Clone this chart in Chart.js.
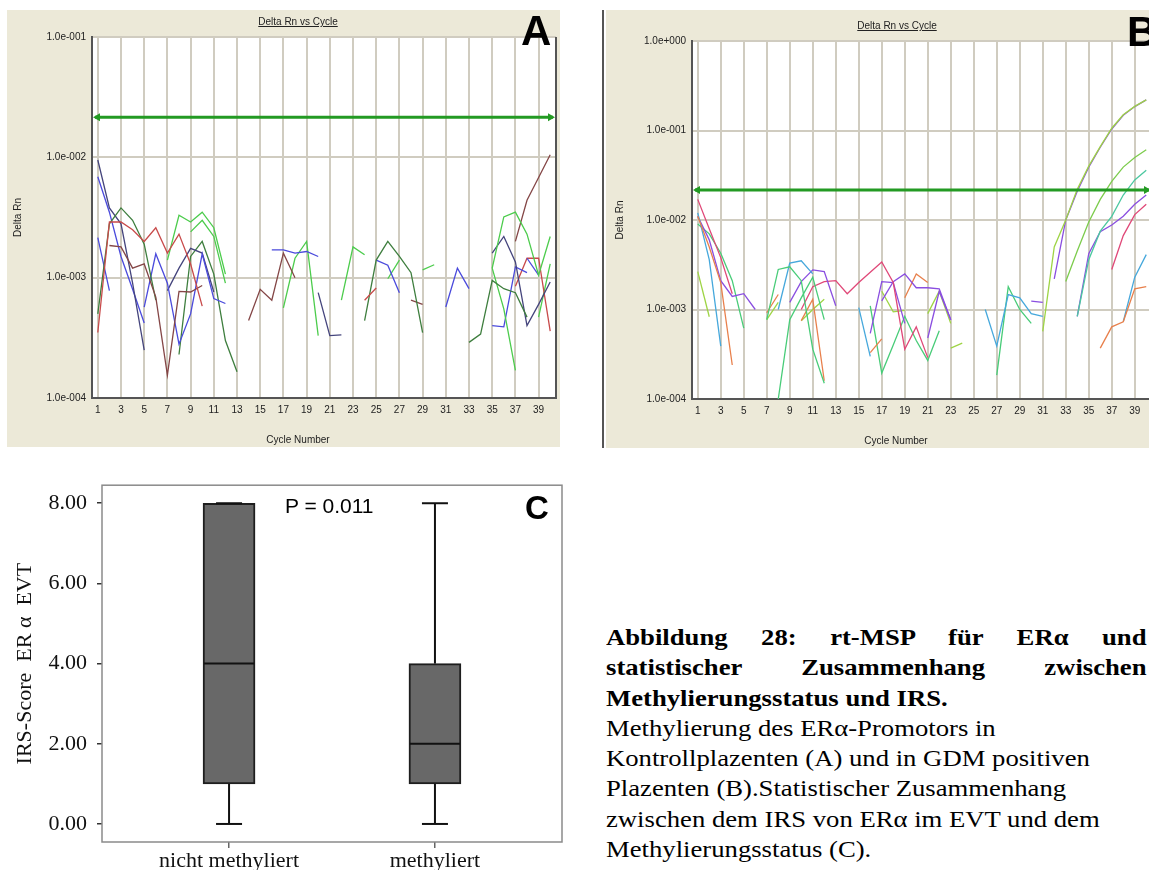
<!DOCTYPE html>
<html>
<head>
<meta charset="utf-8">
<script src="https://cdn.jsdelivr.net/npm/chart.js@4.4.1/dist/chart.umd.min.js"></script>
<style>
  html, body { margin: 0; padding: 0; background: #fff; }
  #page { position: relative; width: 1149px; height: 870px; overflow: hidden; font-family: "Liberation Sans", Arial, sans-serif; }
  .panel { position: absolute; background: #ece9d8; }
  .lbl { position: absolute; font-size: 10px; line-height: 12px; color: #222; white-space: nowrap; transform: translateX(-50%); }
  .letter { position: absolute; font: bold 42px/42px "Liberation Sans", Arial, sans-serif; color: #000; }
  #caption { position: absolute; left: 606px; top: 623px; width: 466px; transform: scaleX(1.16); transform-origin: 0 0;
             font-family: "Liberation Serif", "Times New Roman", serif; font-size: 23px; line-height: 30.3px; color: #000; }
  #caption div { white-space: nowrap; }
  #caption .b { font-weight: bold; }
  #caption .j { text-align: justify; text-align-last: justify; white-space: normal; }
</style>
</head>
<body>
<div id="page">
  <div class="panel" style="left:7px; top:10px; width:553px; height:437px;"><canvas id="chartA"></canvas></div>
  <div style="position:absolute; left:602px; top:10px; width:2px; height:438px; background:#555;"></div>
  <div class="panel" style="left:606px; top:10px; width:550px; height:438px;"><canvas id="chartB"></canvas></div>
  <div style="position:absolute; left:0px; top:462px; width:580px; height:408px;"><canvas id="chartC"></canvas></div>

  <div class="lbl" style="left:298px; top:16px; text-decoration:underline;">Delta Rn vs Cycle</div>
  <div class="lbl" style="left:298px; top:434px;">Cycle Number</div>
  <div class="lbl" style="left:897px; top:20px; text-decoration:underline;">Delta Rn vs Cycle</div>
  <div class="lbl" style="left:896px; top:435px;">Cycle Number</div>
  <div class="letter" style="left:521px; top:10px;">A</div>
  <div class="letter" style="left:1127px; top:11px;">B</div>
  <div style="position:absolute; left:285px; top:495px; font:21px/21px 'Liberation Sans', Arial, sans-serif; color:#000;">P = 0.011</div>
  <div style="position:absolute; left:525px; top:491px; font:bold 33px/33px 'Liberation Sans', Arial, sans-serif; color:#000;">C</div>

  <div id="caption">
    <div class="b j">Abbildung 28: rt-MSP für ERα und</div>
    <div class="b j">statistischer Zusammenhang zwischen</div>
    <div class="b">Methylierungsstatus und IRS.</div>
    <div>Methylierung des ERα-Promotors in</div>
    <div>Kontrollplazenten (A) und in GDM positiven</div>
    <div>Plazenten (B).Statistischer Zusammenhang</div>
    <div>zwischen dem IRS von ERα im EVT und dem</div>
    <div>Methylierungsstatus (C).</div>
  </div>
</div>

<script>
// ---- data -------------------------------------------------------------
const cycleTicks = [1, 3, 5, 7, 9, 11, 13, 15, 17, 19, 21, 23, 25, 27, 29, 31, 33, 35, 37, 39];
const aDecades = [1e-4, 1e-3, 1e-2, 1e-1];
const bDecades = [1e-4, 1e-3, 1e-2, 1e-1, 1];
const aThreshold = 2.15e-2;
const bThreshold = 2.16e-2;

// panel A, each trace segment as [cycle, delta Rn]
const aRed1    = [[1,3.5e-4],[2,2.9e-3],[3,2.9e-3],[4,2.5e-3],[5,2.0e-3],[6,2.6e-3],[7,1.6e-3],[8,2.3e-3],[9,1.3e-3],[10,5.8e-4]];
const aBrown1  = [[2,1.85e-3],[3,1.8e-3],[4,1.2e-3],[5,1.3e-3],[6,6.9e-4],[7,1.55e-4],[8,7.7e-4],[9,7.6e-4],[10,8.6e-4]];
const aDkGrn1  = [[1,5.0e-4],[2,2.8e-3],[3,3.8e-3],[4,3.0e-3],[5,1.9e-3],[6,6.5e-4]];
const aNavy1   = [[1,9.5e-3],[2,3.8e-3],[3,2.8e-3],[4,9.0e-4],[5,2.5e-4]];
const aBlue1   = [[1,6.9e-3],[2,3.5e-3],[3,1.5e-3],[4,8.0e-4],[5,4.2e-4]];
const aBlue2   = [[1,2.15e-3],[2,7.8e-4]];
const aBlue3   = [[5,5.7e-4],[6,1.58e-3],[7,9.0e-4],[8,2.8e-4],[9,5.0e-4],[10,1.58e-3],[11,6.7e-4],[12,6.1e-4]];
const aNavy2   = [[7,7.8e-4],[8,1.2e-3],[9,1.75e-3],[10,1.6e-3],[11,7.6e-4]];
const aGreen1  = [[7,1.4e-3],[8,3.3e-3],[9,2.9e-3],[10,3.5e-3],[11,2.6e-3],[12,1.07e-3]];
const aGreen2  = [[9,2.4e-3],[10,3.0e-3],[11,2.2e-3],[12,9.0e-4]];
const aDkGrn2  = [[8,2.3e-4],[9,1.5e-3],[10,2.0e-3],[11,1.07e-3],[12,3.0e-4],[13,1.65e-4]];
const aBrown2  = [[14,4.4e-4],[15,8.0e-4],[16,6.5e-4],[17,1.6e-3],[18,1.0e-3]];
const aBlue4   = [[16,1.7e-3],[17,1.7e-3],[18,1.6e-3],[19,1.65e-3],[20,1.5e-3]];
const aGreen3  = [[17,5.6e-4],[18,1.45e-3],[19,2.0e-3],[20,3.3e-4]];
const aNavy3   = [[20,7.5e-4],[21,3.3e-4],[22,3.35e-4]];
const aGreen4  = [[22,6.5e-4],[23,1.8e-3],[24,1.55e-3]];
const aRed2    = [[24,6.5e-4],[25,8.2e-4]];
const aDkGrn3  = [[24,4.4e-4],[25,1.4e-3],[26,2.0e-3],[27,1.5e-3],[28,1.1e-3],[29,3.5e-4]];
const aBlue5   = [[25,1.4e-3],[26,1.27e-3],[27,7.5e-4]];
const aGreen5  = [[26,9.8e-4],[27,1.4e-3]];
const aBrown3  = [[28,6.5e-4],[29,6.0e-4]];
const aGreen6  = [[29,1.16e-3],[30,1.28e-3]];
const aBlue6   = [[31,5.7e-4],[32,1.2e-3],[33,8.1e-4]];
const aDkGrn4  = [[33,2.9e-4],[34,3.4e-4],[35,9.5e-4],[36,8.1e-4],[37,7.5e-4],[38,4.7e-4]];
const aGreen7  = [[35,1.2e-3],[36,3.2e-3],[37,3.5e-3],[38,2.3e-3],[39,1.05e-3],[40,2.2e-3]];
const aGreen8  = [[35,1.2e-3],[36,5.5e-4],[37,1.7e-4]];
const aNavy4   = [[35,1.6e-3],[36,2.2e-3],[37,1.35e-3],[38,4.0e-4],[39,6.0e-4],[40,9.2e-4]];
const aBlue7   = [[35,4.0e-4],[36,3.9e-4],[37,1.23e-3],[38,1.1e-3]];
const aBlue8   = [[38,1.45e-3],[39,1.05e-3]];
const aBrown4  = [[37,2.0e-3],[38,4.4e-3],[39,6.8e-3],[40,1.05e-2]];
const aRed3    = [[37,8.5e-4],[38,1.45e-3],[39,1.45e-3],[40,3.6e-4]];
const aGreen9  = [[39,4.7e-4],[40,1.3e-3]];

// panel B
const bPink1   = [[1,1.7e-2],[2,8.0e-3],[3,3.8e-3],[4,1.5e-3]];
const bOrange1 = [[1,1.1e-2],[2,5.0e-3],[3,2.0e-3],[4,2.4e-4]];
const bSky1    = [[1,1.2e-2],[2,3.6e-3],[3,3.9e-4]];
const bPurple1 = [[1,1.1e-2],[2,6.0e-3],[3,2.1e-3],[4,1.4e-3],[5,1.5e-3],[6,1.0e-3]];
const bGreen1  = [[1,9.0e-3],[2,7.0e-3],[3,4.25e-3],[4,2.1e-3],[5,6.2e-4]];
const bYGrn1   = [[1,2.65e-3],[2,8.3e-4]];
const bGreen2  = [[7,7.7e-4],[8,2.8e-3],[9,3.0e-3],[10,2.1e-3],[11,3.6e-4],[12,1.5e-4]];
const bOrange2 = [[7,9.2e-4],[8,1.47e-3]];
const bYGrn2   = [[7,7.7e-4],[8,1.2e-3]];
const bSky2    = [[8,1.0e-3],[9,3.3e-3],[10,3.5e-3],[11,2.5e-3]];
const bGreen3  = [[8,1.0e-4],[9,7.7e-4],[10,1.35e-3],[11,2.3e-3],[12,7.7e-4]];
const bPurple2 = [[9,1.2e-3],[10,2.05e-3],[11,2.77e-3],[12,2.65e-3],[13,1.1e-3]];
const bPink2   = [[10,1.0e-3],[11,1.8e-3],[12,2.05e-3],[13,2.1e-3],[14,1.5e-3],[15,2.0e-3],[16,2.6e-3],[17,3.4e-3],[18,2.0e-3],[19,3.6e-4],[20,6.4e-4],[21,2.9e-4]];
const bOrange3 = [[10,7.5e-4],[11,1.3e-3],[12,1.6e-4]];
const bYGrn3   = [[10,7.5e-4],[11,1.0e-3],[12,1.3e-3]];
const bSky3    = [[15,1.05e-3],[16,3.0e-4]];
const bOrange4 = [[16,3.3e-4],[17,4.7e-4]];
const bPurple3 = [[16,5.4e-4],[17,2.05e-3],[18,2.0e-3],[19,7.0e-4]];
const bPurple4 = [[17,1.25e-3],[18,2.05e-3],[19,2.5e-3],[20,1.75e-3],[21,1.75e-3],[22,1.7e-3],[23,7.7e-4]];
const bGreen4  = [[16,1.1e-3],[17,1.95e-4],[18,4.0e-4],[19,8.4e-4],[20,4.5e-4],[21,2.7e-4],[22,5.8e-4]];
const bYGrn4   = [[17,1.6e-3],[18,9.4e-4],[19,9.8e-4]];
const bOrange5 = [[19,1.35e-3],[20,2.5e-3],[21,2.0e-3]];
const bPurple5 = [[21,4.8e-4],[22,1.6e-3],[23,7.7e-4]];
const bYGrn5   = [[21,9.0e-4],[22,1.6e-3],[23,7.0e-4]];
const bYGrn6   = [[23,3.7e-4],[24,4.2e-4]];
const bSky4    = [[26,1.0e-3],[27,3.9e-4],[28,1.47e-3],[29,1.35e-3],[30,9.0e-4],[31,8.4e-4]];
const bGreen5  = [[27,1.85e-4],[28,1.8e-3],[29,1.0e-3],[30,7.0e-4]];
const bPurple6 = [[30,1.24e-3],[31,1.2e-3]];
const bYGrn7   = [[31,5.7e-4],[32,5.0e-3],[33,1.0e-2],[34,2.2e-2],[35,4.0e-2],[36,6.6e-2],[37,1.06e-1],[38,1.5e-1],[39,1.86e-1],[40,2.2e-1]];
const bPurple7 = [[32,2.2e-3],[33,1.0e-2],[34,2.1e-2],[35,3.9e-2],[36,6.5e-2],[37,1.04e-1],[38,1.48e-1],[39,1.85e-1],[40,2.2e-1]];
const bGreen6  = [[33,2.05e-3],[34,4.5e-3],[35,9.5e-3],[36,1.7e-2],[37,2.7e-2],[38,3.9e-2],[39,5.0e-2],[40,6.1e-2]];
const bTeal1   = [[34,8.4e-4],[35,3.6e-3],[36,7.5e-3],[37,1.1e-2],[38,1.9e-2],[39,2.8e-2],[40,3.6e-2]];
const bPurple8 = [[34,8.4e-4],[35,4.2e-3],[36,7.4e-3],[37,8.8e-3],[38,1.1e-2],[39,1.5e-2],[40,1.9e-2]];
const bPink3   = [[37,2.8e-3],[38,6.7e-3],[39,1.15e-2],[40,1.5e-2]];
const bOrange6 = [[36,3.7e-4],[37,6.4e-4],[38,7.3e-4],[39,1.7e-3],[40,1.8e-3]];
const bSky5    = [[38,7.3e-4],[39,2.3e-3],[40,4.1e-3]];

// panel C (IRS score box plot)
const irsGroups = ['nicht methyliert', 'methyliert'];
const irsPos    = [1, 2];
const irsMin    = [0, 0];
const irsQ1     = [1, 1];
const irsMedian = [4, 2];
const irsQ3     = [8, 4];
const irsMax    = [8, 8];
const irsTicks  = [0, 2, 4, 6, 8];

// ---- styles -----------------------------------------------------------
const RED = '#c84a4a', BROWN = '#844646', DKGREEN = '#3e7e3e', GREEN = '#4ccc4c', BLUE = '#4a4adc', NAVY = '#44447c';
const PINK = '#e04878', ORANGE = '#e8804c', SKY = '#46a8dc', PURPLE = '#8a4ee0', GREENB = '#48cc78', YGREEN = '#9ed444', TEAL = '#4cc8a0', LGREEN = '#7ccc4c';

const aTraces = [
  [aRed1, RED], [aBrown1, BROWN], [aDkGrn1, DKGREEN], [aNavy1, NAVY], [aBlue1, BLUE], [aBlue2, BLUE],
  [aBlue3, BLUE], [aNavy2, NAVY], [aGreen1, GREEN], [aGreen2, GREEN], [aDkGrn2, DKGREEN], [aBrown2, BROWN],
  [aBlue4, BLUE], [aGreen3, GREEN], [aNavy3, NAVY], [aGreen4, GREEN], [aRed2, RED], [aDkGrn3, DKGREEN],
  [aBlue5, BLUE], [aGreen5, GREEN], [aBrown3, BROWN], [aGreen6, GREEN], [aBlue6, BLUE], [aDkGrn4, DKGREEN],
  [aGreen7, GREEN], [aGreen8, GREEN], [aNavy4, NAVY], [aBlue7, BLUE], [aBlue8, BLUE], [aBrown4, BROWN],
  [aRed3, RED], [aGreen9, GREEN]
];
const bTraces = [
  [bPink1, PINK], [bOrange1, ORANGE], [bSky1, SKY], [bPurple1, PURPLE], [bGreen1, GREENB], [bYGrn1, YGREEN],
  [bGreen2, GREENB], [bOrange2, ORANGE], [bYGrn2, YGREEN], [bSky2, SKY], [bGreen3, GREENB], [bPurple2, PURPLE],
  [bPink2, PINK], [bOrange3, ORANGE], [bYGrn3, YGREEN], [bSky3, SKY], [bOrange4, ORANGE], [bPurple3, PURPLE],
  [bPurple4, PURPLE], [bGreen4, GREENB], [bYGrn4, YGREEN], [bOrange5, ORANGE], [bPurple5, PURPLE], [bYGrn5, YGREEN],
  [bYGrn6, YGREEN], [bSky4, SKY], [bGreen5, GREENB], [bPurple6, PURPLE], [bYGrn7, YGREEN], [bPurple7, PURPLE],
  [bGreen6, LGREEN], [bTeal1, TEAL], [bPurple8, PURPLE], [bPink3, PINK], [bOrange6, ORANGE], [bSky5, SKY]
];

const SANS = '"Liberation Sans", Arial, sans-serif';
const SERIF = '"Liberation Serif", "Times New Roman", serif';
Chart.defaults.font.family = SANS;

function sci(v) {
    const e = Math.round(Math.log10(v));
    return '1.0e' + (e < 0 ? '-' : '+') + String(Math.abs(e)).padStart(3, '0');
}

// white plot area plus dark right edge
const plotFrame = {
    id: 'plotFrame',
    beforeDraw(chart) {
        const { ctx, chartArea: a } = chart;
        ctx.save();
        ctx.fillStyle = '#fff';
        ctx.fillRect(a.left, a.top, a.width, a.height);
        ctx.restore();
    },
    beforeDatasetsDraw(chart) {
        const { ctx, chartArea: a } = chart;
        ctx.save();
        ctx.strokeStyle = '#555';
        ctx.lineWidth = 2;
        ctx.beginPath();
        ctx.moveTo(a.right, a.top);
        ctx.lineTo(a.right, a.bottom);
        ctx.stroke();
        ctx.restore();
    }
};

// green threshold line with arrow heads
const thresholdLine = {
    id: 'threshold',
    afterDatasetsDraw(chart, args, opts) {
        const { ctx, chartArea: a } = chart;
        const y = chart.scales.y.getPixelForValue(opts.value);
        ctx.save();
        ctx.strokeStyle = '#239a23';
        ctx.fillStyle = '#239a23';
        ctx.lineWidth = 3;
        ctx.beginPath();
        ctx.moveTo(a.left + 3, y);
        ctx.lineTo(a.right - 3, y);
        ctx.stroke();
        [[a.left + 1, 1], [a.right - 1, -1]].forEach(([x, d]) => {
            ctx.beginPath();
            ctx.moveTo(x, y);
            ctx.lineTo(x + 7 * d, y - 4);
            ctx.lineTo(x + 7 * d, y + 4);
            ctx.closePath();
            ctx.fill();
        });
        ctx.restore();
    }
};

function qpcrChart(id, traces, decades, threshold, pad, yWidth, titlePad) {
    const grid = { color: '#d0ccc0', lineWidth: 2, drawTicks: false };
    const border = { color: '#555', width: 2 };
    const tickFont = { size: 10, family: SANS };
    return new Chart(document.getElementById(id), {
        type: 'line',
        data: {
            datasets: traces.map(([pts, color]) => ({
                data: pts.map(p => ({ x: p[0], y: p[1] })),
                borderColor: color,
                borderWidth: 1.3,
                pointRadius: 0,
                tension: 0,
                fill: false
            }))
        },
        options: {
            responsive: true,
            maintainAspectRatio: false,
            animation: false,
            events: [],
            layout: { padding: pad },
            plugins: {
                legend: { display: false },
                tooltip: { enabled: false },
                threshold: { value: threshold }
            },
            scales: {
                x: {
                    type: 'linear', min: 0.5, max: 40.5,
                    afterBuildTicks: s => { s.ticks = cycleTicks.map(v => ({ value: v })); },
                    afterFit: s => { s.height = 49; },
                    grid, border,
                    ticks: { padding: 6, color: '#222', font: tickFont, autoSkip: false, maxRotation: 0 }
                },
                y: {
                    type: 'logarithmic', min: decades[0], max: decades[decades.length - 1],
                    afterBuildTicks: s => { s.ticks = decades.map(v => ({ value: v })); },
                    afterFit: s => { s.width = yWidth; },
                    grid, border,
                    ticks: { padding: 6, color: '#222', font: tickFont, callback: v => sci(v) },
                    title: { display: true, text: 'Delta Rn', color: '#222', font: { size: 10 }, padding: { top: titlePad, bottom: 0 } }
                }
            }
        },
        plugins: [plotFrame, thresholdLine]
    });
}

qpcrChart('chartA', aTraces, aDecades, aThreshold, { top: 27, right: 4, left: 0, bottom: 0 }, 85, 5);
qpcrChart('chartB', bTraces, bDecades, bThreshold, { top: 31, right: 4, left: 0, bottom: 0 }, 86, 8);

// ---- panel C ----------------------------------------------------------
const boxFrame = {
    id: 'boxFrame',
    afterDraw(chart) {
        const { ctx, chartArea: a } = chart;
        ctx.save();
        ctx.strokeStyle = '#8a8a8a';
        ctx.lineWidth = 1.5;
        ctx.strokeRect(a.left, a.top, a.width, a.height);
        ctx.restore();
    }
};

const whiskers = {
    id: 'whiskers',
    afterDatasetsDraw(chart) {
        const { ctx, scales: { x, y } } = chart;
        const bars = chart.getDatasetMeta(0).data;
        const line = (x0, y0, x1, y1) => { ctx.beginPath(); ctx.moveTo(x0, y0); ctx.lineTo(x1, y1); ctx.stroke(); };
        ctx.save();
        ctx.strokeStyle = '#111';
        ctx.lineWidth = 2;
        irsPos.forEach((p, i) => {
            const cx = x.getPixelForValue(p);
            const half = bars[i].width / 2;
            const cap = half / 2;
            const yMax = y.getPixelForValue(irsMax[i]);
            const yMin = y.getPixelForValue(irsMin[i]);
            line(cx, y.getPixelForValue(irsQ3[i]), cx, yMax);
            line(cx, y.getPixelForValue(irsQ1[i]), cx, yMin);
            line(cx - cap, yMax, cx + cap, yMax);
            line(cx - cap, yMin, cx + cap, yMin);
            const yMed = y.getPixelForValue(irsMedian[i]);
            line(cx - half + 1, yMed, cx + half - 1, yMed);
        });
        ctx.restore();
    }
};

new Chart(document.getElementById('chartC'), {
    type: 'bar',
    data: {
        datasets: [{
            data: irsPos.map((p, i) => ({ x: p, y: [irsQ1[i], irsQ3[i]] })),
            backgroundColor: '#686868',
            borderColor: '#1e1e1e',
            borderWidth: 2,
            borderSkipped: false,
            barThickness: 52
        }]
    },
    options: {
        responsive: true,
        maintainAspectRatio: false,
        animation: false,
        events: [],
        layout: { padding: { top: 18, right: 18, left: 0, bottom: 0 } },
        plugins: { legend: { display: false }, tooltip: { enabled: false } },
        scales: {
            x: {
                type: 'linear', min: 0.383, max: 2.617, offset: false,
                afterBuildTicks: s => { s.ticks = irsPos.map(v => ({ value: v })); },
                afterFit: s => { s.height = 28; },
                grid: { offset: false, drawOnChartArea: false, tickLength: 6, color: '#666', lineWidth: 1.5 },
                border: { display: false },
                ticks: {
                    padding: 0, color: '#111', font: { size: 22, family: SERIF }, maxRotation: 0, autoSkip: false,
                    callback: v => irsGroups[irsPos.indexOf(v)]
                }
            },
            y: {
                min: -0.45, max: 8.45,
                afterBuildTicks: s => { s.ticks = irsTicks.map(v => ({ value: v })); },
                afterFit: s => { s.width = 102; },
                grid: { drawOnChartArea: false, tickLength: 5, color: '#333', lineWidth: 1.5 },
                border: { display: false },
                ticks: { padding: 10, color: '#111', font: { size: 22, family: SERIF }, callback: v => v.toFixed(2) },
                title: { display: true, text: 'IRS-Score  ER α  EVT', color: '#111', font: { size: 22, family: SERIF }, padding: { top: 12, bottom: 0 } }
            }
        }
    },
    plugins: [boxFrame, whiskers]
});
</script>
</body>
</html>
